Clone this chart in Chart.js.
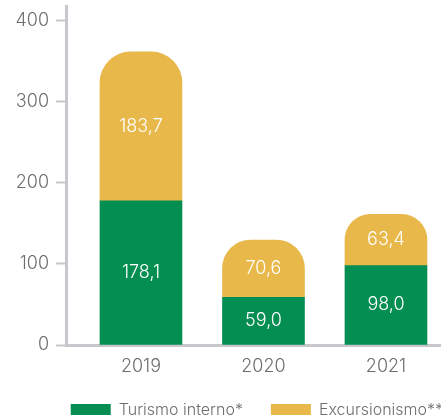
<!DOCTYPE html>
<html>
<head>
<meta charset="utf-8">
<script src="https://cdn.jsdelivr.net/npm/chart.js@4/dist/chart.umd.min.js"></script>
<style>
  html, body { margin: 0; padding: 0; background: #fff; }
  #wrap { width: 441px; height: 415px; overflow: hidden; position: relative; }
  #wrap canvas { position: absolute; left: 0; top: 0; }
</style>
</head>
<body>
<div id="wrap"><canvas id="chart" width="471" height="428"></canvas></div>
<script>
const categories = ['2019', '2020', '2021'];
const turismoInterno = [178.1, 59.0, 98.0];
const excursionismo = [183.7, 70.6, 63.4];
const yTicks = [0, 100, 200, 300, 400];
const seriesLabels = ['Turismo interno*', 'Excursionismo**'];

const GREEN = '#058e52';
const YELLOW = '#e8b84b';
const GREY_TEXT = '#6d6e71';
const GREY_LINE = '#c8c8cc';
const FONT = 'Inter, sans-serif';

// white values in the middle of each segment
const segmentLabels = {
  id: 'segmentLabels',
  afterDatasetsDraw(chart) {
    const ctx = chart.ctx;
    ctx.save();
    ctx.fillStyle = '#fff';
    ctx.font = '300 18px ' + FONT;
    ctx.textAlign = 'center';
    ctx.textBaseline = 'middle';
    chart.data.datasets.forEach((ds, i) => {
      chart.getDatasetMeta(i).data.forEach((bar, j) => {
        const v = ds.data[j].y;
        ctx.fillText(v.toFixed(1).replace('.', ','), bar.x, (bar.y + bar.base) / 2);
      });
    });
    ctx.restore();
  }
};

new Chart(document.getElementById('chart'), {
  type: 'bar',
  data: {
    datasets: [
      {
        label: seriesLabels[0],
        data: categories.map((c, i) => ({ x: i, y: turismoInterno[i] })),
        backgroundColor: GREEN,
        barThickness: 82,
        borderRadius: 0
      },
      {
        label: seriesLabels[1],
        data: categories.map((c, i) => ({ x: i, y: excursionismo[i] })),
        backgroundColor: YELLOW,
        barThickness: 82,
        borderRadius: { topLeft: 31, topRight: 31, bottomLeft: 0, bottomRight: 0 },
        borderSkipped: 'start'
      }
    ]
  },
  options: {
    responsive: false,
    animation: false,
    layout: { padding: { top: 6, right: 0, left: 0, bottom: 0 } },
    scales: {
      x: {
        type: 'linear',
        stacked: true,
        offset: false,
        min: -0.612,
        max: 2.694,
        grid: { display: false, drawTicks: false, offset: false },
        border: { display: true, color: GREY_LINE, width: 3 },
        afterBuildTicks: s => { s.ticks = categories.map((c, i) => ({ value: i })); },
        afterFit: s => { s.height = 29; s.paddingLeft = 0; s.paddingRight = 0; },
        ticks: {
          padding: 11,
          color: GREY_TEXT,
          font: { family: FONT, size: 18, weight: 300 },
          callback: v => categories[v]
        }
      },
      y: {
        stacked: true,
        min: 0,
        max: 418.5,
        grid: { drawOnChartArea: false, drawTicks: true, tickLength: 10, tickWidth: 2, tickColor: GREY_LINE },
        border: { display: true, color: GREY_LINE, width: 3 },
        afterBuildTicks: s => { s.ticks = yTicks.map(v => ({ value: v })); },
        afterFit: s => { s.width = 66; s.paddingTop = 0; s.paddingBottom = 0; },
        ticks: {
          padding: 7,
          color: GREY_TEXT,
          font: { family: FONT, size: 18, weight: 300 }
        }
      }
    },
    plugins: {
      tooltip: { enabled: false },
      legend: {
        position: 'bottom',
        align: 'end',
        labels: {
          boxWidth: 40,
          boxHeight: 12,
          padding: 28,
          color: GREY_TEXT,
          font: { family: FONT, size: 16, weight: 300 }
        }
      }
    }
  },
  plugins: [segmentLabels]
});
</script>
</body>
</html>
